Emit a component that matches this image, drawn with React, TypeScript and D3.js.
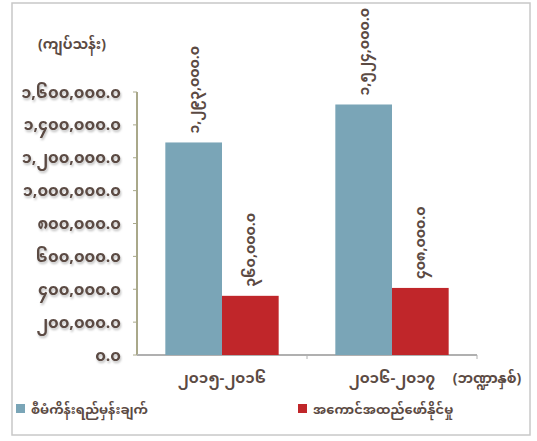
import React from "react";
import * as d3 from "d3";

const categories = ["၂၀၁၅-၂၀၁၆", "၂၀၁၆-၂၀၁၇"];
const seriesNames = ["စီမံကိန်းရည်မှန်းချက်", "အကောင်အထည်ဖော်နိုင်မှု"];
const planned = [1293000, 1524000];
const achieved = [360000, 408000];
const yTicks = [0, 200000, 400000, 600000, 800000, 1000000, 1200000, 1400000, 1600000];
const yTitle = "(ကျပ်သန်း)";
const xTitle = "(ဘဏ္ဍာနှစ်)";

const colors = ["#7aa5b7", "#c0262a"];
const textColor = "#5b4a43";
const font = "'Noto Sans Myanmar', 'Padauk', 'Myanmar Text', 'Noto Sans', sans-serif";

const mmDigits = "၀၁၂၃၄၅၆၇၈၉";
const toMM = (s: string) => s.replace(/[0-9]/g, (d) => mmDigits[+d]);
const fmt = (v: number) => toMM(v === 0 ? "0.0" : d3.format(",.1f")(v));

export default function App() {
  const W = 537, H = 441;
  const margin = { left: 137, right: 60, top: 92, bottom: 86 };
  const x0 = d3.scaleBand().domain(categories).range([margin.left, W - margin.right]).paddingInner(0).paddingOuter(0);
  const x1 = d3.scaleBand().domain(["0", "1"]).range([0, x0.bandwidth()]).paddingOuter(0.5).paddingInner(0);
  const y = d3.scaleLinear().domain([0, 1600000]).range([H - margin.bottom, margin.top]);
  const series = [planned, achieved];

  return (
    <svg width={W} height={H} style={{ position: "absolute", left: 0, top: 0, background: "#fff" }} fontFamily={font}>
      <rect x={12} y={3} width={518} height={432} fill="#fff" stroke="#c8c8c8" strokeWidth={1.5} />
      {/* y axis title */}
      <text x={72} y={49} textAnchor="middle" fontSize={14} fontWeight="bold" fill={textColor}>{yTitle}</text>
      {/* y axis */}
      <line x1={margin.left} x2={margin.left} y1={y(1600000)} y2={y(0)} stroke="#a9a88a" strokeWidth={2} />
      {yTicks.map((t) => (
        <g key={t}>
          <line x1={margin.left - 4} x2={margin.left} y1={y(t)} y2={y(t)} stroke="#a9a88a" />
          <text x={121} y={y(t)} dy="0.35em" textAnchor="end" fontSize={16} fontWeight="bold" fill={textColor}
            style={{ filter: "drop-shadow(1px 2px 1px rgba(0,0,0,0.25))" }}>{fmt(t)}</text>
        </g>
      ))}
      {/* x axis */}
      <line x1={margin.left} x2={W - margin.right} y1={y(0)} y2={y(0)} stroke="#b0b0b0" strokeWidth={2} />
      {categories.map((c) => (
        <g key={c}>
          <line x1={x0(c)! + x0.bandwidth()} x2={x0(c)! + x0.bandwidth()} y1={y(0)} y2={y(0) + 4} stroke="#b0b0b0" />
          <text x={x0(c)! + x0.bandwidth() / 2} y={y(0) + 28} textAnchor="middle" fontSize={15} fontWeight="bold" fill={textColor}>{c}</text>
        </g>
      ))}
      <text x={487} y={y(0) + 28} textAnchor="middle" fontSize={14} fontWeight="bold" fill={textColor}>{xTitle}</text>
      {/* bars */}
      {categories.map((c, i) =>
        series.map((s, j) => {
          const bx = x0(c)! + x1(String(j))!;
          const by = y(s[i]);
          const cx = bx + x1.bandwidth() / 2;
          const ly = by - 9;
          return (
            <g key={c + j}>
              <rect x={bx} y={by} width={x1.bandwidth()} height={y(0) - by} fill={colors[j]} />
              <text transform={`translate(${cx},${ly}) rotate(-90)`} dy="0.35em" textAnchor="start" fontSize={14} fontWeight="bold" fill={textColor}>{fmt(s[i])}</text>
            </g>
          );
        })
      )}
      {/* legend */}
      {seriesNames.map((n, j) => {
        const lx = j === 0 ? 16 : 298;
        return (
          <g key={n}>
            <rect x={lx} y={404} width={9} height={9} fill={colors[j]} />
            <text x={lx + 15} y={409} dy="0.35em" fontSize={13} fontWeight="bold" fill={textColor}>{n}</text>
          </g>
        );
      })}
    </svg>
  );
}
